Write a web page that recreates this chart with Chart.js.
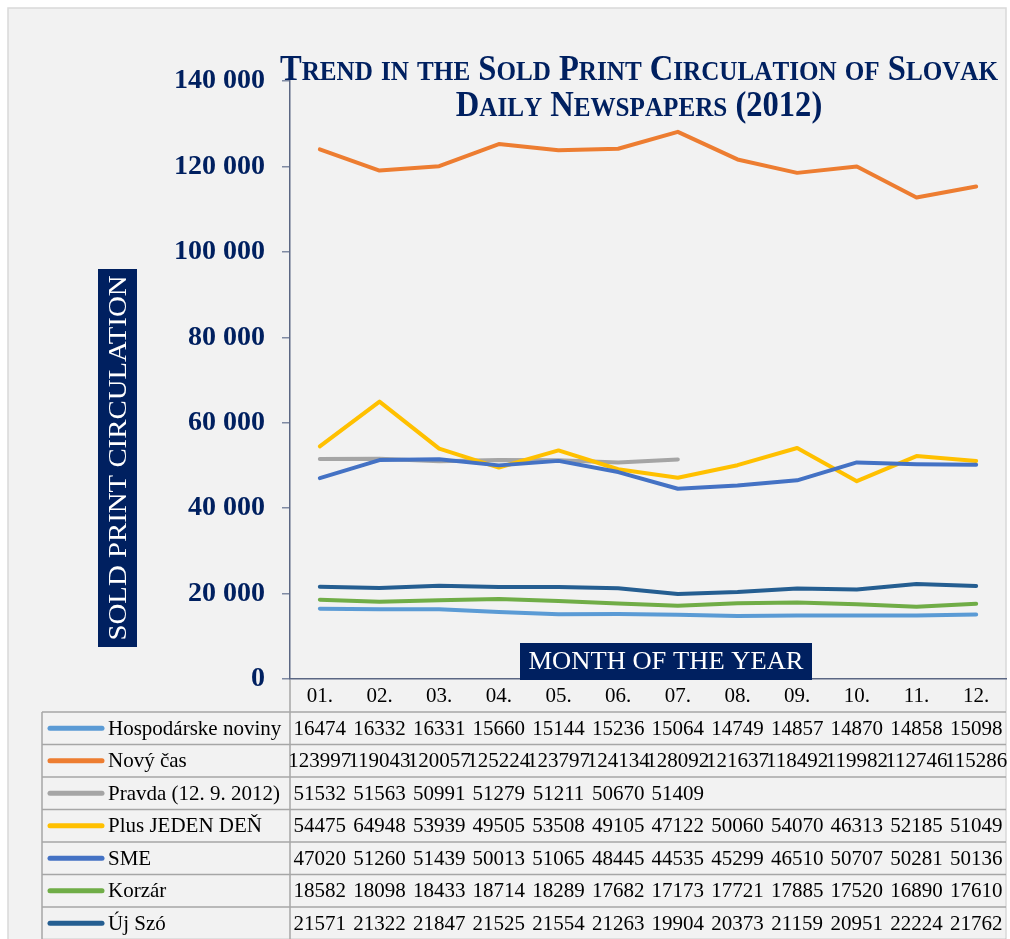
<!DOCTYPE html>
<html>
<head>
<meta charset="utf-8">
<script src="https://cdn.jsdelivr.net/npm/chart.js@4.4.1/dist/chart.umd.min.js"></script>
<style>
  html, body { margin: 0; padding: 0; background: #ffffff; }
  #wrap { width: 1010px; height: 939px; }
</style>
</head>
<body>
<div id="wrap"><canvas id="chart" width="1010" height="939"></canvas></div>
<script>
// data
const months = ["01.", "02.", "03.", "04.", "05.", "06.", "07.", "08.", "09.", "10.", "11.", "12."];
const yTicks = [0, 20000, 40000, 60000, 80000, 100000, 120000, 140000];

const seriesNames = ["Hospodárske noviny", "Nový čas", "Pravda (12. 9. 2012)", "Plus JEDEN DEŇ", "SME", "Korzár", "Új Szó"];
const hospodarske = [16474, 16332, 16331, 15660, 15144, 15236, 15064, 14749, 14857, 14870, 14858, 15098];
const novyCas     = [123997, 119043, 120057, 125224, 123797, 124134, 128092, 121637, 118492, 119982, 112746, 115286];
const pravda      = [51532, 51563, 50991, 51279, 51211, 50670, 51409, null, null, null, null, null];
const plusJedenDen = [54475, 64948, 53939, 49505, 53508, 49105, 47122, 50060, 54070, 46313, 52185, 51049];
const sme         = [47020, 51260, 51439, 50013, 51065, 48445, 44535, 45299, 46510, 50707, 50281, 50136];
const korzar      = [18582, 18098, 18433, 18714, 18289, 17682, 17173, 17721, 17885, 17520, 16890, 17610];
const ujSzo       = [21571, 21322, 21847, 21525, 21554, 21263, 19904, 20373, 21159, 20951, 22224, 21762];

const seriesValues = [hospodarske, novyCas, pravda, plusJedenDen, sme, korzar, ujSzo];
const colores = ["#5B9BD5", "#ED7D31", "#A5A5A5", "#FFC000", "#4472C4", "#70AD47", "#255E91"];

const NAVY = "#002060";
const SERIF = '"Liberation Serif", "Times New Roman", serif';

function miles(v) {
    return String(v).replace(/\B(?=(\d{3})+(?!\d))/g, " ");
}

// title in small caps
function textoVersalitas(texto, big, small) {
    const partes = [];
    for (const ch of texto) {
        const minus = ch !== ch.toUpperCase();
        partes.push({ ch: ch.toUpperCase(), size: minus ? small : big });
    }
    return partes;
}
function anchoPartes(ctx, partes) {
    let w = 0;
    partes.forEach(p => { ctx.font = "bold " + p.size + "px " + SERIF; w += ctx.measureText(p.ch).width; });
    return w;
}
function pintarPartes(ctx, partes, x, y) {
    partes.forEach(p => {
        ctx.font = "bold " + p.size + "px " + SERIF;
        ctx.fillText(p.ch, x, y);
        x += ctx.measureText(p.ch).width;
    });
}

const fondoPlugin = {
    id: "fondo",
    beforeDraw(chart) {
        const ctx = chart.ctx;
        ctx.save();
        ctx.fillStyle = "#ffffff";
        ctx.fillRect(0, 0, chart.width, chart.height);
        ctx.fillStyle = "#f2f2f2";
        ctx.fillRect(8, 8, 998, 940);
        ctx.strokeStyle = "#d9d9d9";
        ctx.lineWidth = 1.5;
        ctx.strokeRect(8, 8, 998, 940);
        ctx.restore();
    }
};

const extrasPlugin = {
    id: "extras",
    afterDraw(chart) {
        const ctx = chart.ctx;
        const x = chart.scales.x;
        ctx.save();

        // title
        ctx.fillStyle = NAVY;
        ctx.textBaseline = "alphabetic";
        ctx.textAlign = "left";
        const l1 = textoVersalitas("Trend in the Sold Print Circulation of Slovak", 35, 27);
        const l2 = textoVersalitas("Daily Newspapers (2012)", 35, 27);
        const w1 = anchoPartes(ctx, l1), w2 = anchoPartes(ctx, l2);
        const sx = 718 / w1;
        ctx.save();
        ctx.translate(639, 0);
        ctx.scale(sx, 1);
        pintarPartes(ctx, l1, -w1 / 2, 80);
        pintarPartes(ctx, l2, -w2 / 2, 116);
        ctx.restore();

        // y axis title
        ctx.fillStyle = NAVY;
        ctx.fillRect(98, 269, 39, 378);
        ctx.save();
        ctx.translate(118, 458);
        ctx.rotate(-Math.PI / 2);
        ctx.font = "25px " + SERIF;
        ctx.fillStyle = "#ffffff";
        ctx.textAlign = "center";
        ctx.textBaseline = "middle";
        const wy = ctx.measureText("SOLD PRINT CIRCULATION").width;
        ctx.scale(365 / wy, 1);
        ctx.fillText("SOLD PRINT CIRCULATION", 0, 1);
        ctx.restore();

        // x axis title
        ctx.fillStyle = NAVY;
        ctx.fillRect(520, 643, 292, 37);
        ctx.save();
        ctx.translate(666, 662);
        ctx.font = "25px " + SERIF;
        ctx.fillStyle = "#ffffff";
        ctx.textAlign = "center";
        ctx.textBaseline = "middle";
        const wx = ctx.measureText("MONTH OF THE YEAR").width;
        ctx.scale(275 / wx, 1);
        ctx.fillText("MONTH OF THE YEAR", 0, 0);
        ctx.restore();

        // data table
        const top = 712, alto = 32.5, izq = 42, sep = 290, der = 1006;
        ctx.strokeStyle = "#a6a6a6";
        ctx.lineWidth = 1.5;
        ctx.beginPath();
        for (let r = 0; r <= seriesNames.length; r++) {
            const yy = top + r * alto;
            ctx.moveTo(izq, yy);
            ctx.lineTo(der, yy);
        }
        ctx.moveTo(izq, top);
        ctx.lineTo(izq, 940);
        ctx.moveTo(sep, chart.chartArea.bottom + 1);
        ctx.lineTo(sep, 940);
        ctx.stroke();

        ctx.fillStyle = "#000000";
        ctx.font = "21px " + SERIF;
        ctx.textAlign = "center";
        ctx.textBaseline = "middle";
        months.forEach((m, i) => ctx.fillText(m, x.getPixelForValue(i), 696));

        seriesNames.forEach((nombre, r) => {
            const cy = top + r * alto + alto / 2 + 1;
            ctx.strokeStyle = colores[r];
            ctx.lineWidth = 5;
            ctx.lineCap = "round";
            ctx.beginPath();
            ctx.moveTo(50, cy - 1);
            ctx.lineTo(102, cy - 1);
            ctx.stroke();

            ctx.fillStyle = "#000000";
            ctx.textAlign = "left";
            ctx.fillText(nombre, 108, cy);
            ctx.textAlign = "center";
            seriesValues[r].forEach((v, i) => {
                if (v === null) return;
                ctx.fillText(String(v), x.getPixelForValue(i), cy);
            });
        });

        ctx.restore();
    }
};

const ctx = document.getElementById("chart").getContext("2d");

new Chart(ctx, {
    type: "line",
    data: {
        labels: months,
        datasets: seriesNames.map((nombre, i) => ({
            label: nombre,
            data: seriesValues[i],
            borderColor: colores[i],
            backgroundColor: colores[i],
            borderWidth: 4,
            borderCapStyle: "round",
            borderJoinStyle: "round",
            pointRadius: 0,
            tension: 0,
            fill: false,
            order: seriesNames.length - i
        }))
    },
    options: {
        responsive: false,
        animation: false,
        devicePixelRatio: 1,
        layout: { padding: { left: 0, right: 4, top: 81, bottom: 260 } },
        plugins: {
            legend: { display: false },
            title: { display: false },
            tooltip: { enabled: false }
        },
        scales: {
            x: {
                type: "category",
                offset: true,
                grid: { display: false },
                border: { display: true, color: "#5b6783", width: 1.5 },
                ticks: { display: false },
                afterFit(s) { s.height = 0; }
            },
            y: {
                min: 0,
                max: 140000,
                afterBuildTicks(s) { s.ticks = yTicks.map(v => ({ value: v })); },
                grid: { drawOnChartArea: false, drawTicks: true, tickLength: 8, color: "#7f8aa3", lineWidth: 1.5 },
                border: { display: true, color: "#5b6783", width: 1.5 },
                ticks: {
                    color: NAVY,
                    padding: 17,
                    font: { family: SERIF, size: 28, weight: "bold" },
                    callback: v => miles(v)
                },
                afterFit(s) { s.width = 290; }
            }
        }
    },
    plugins: [fondoPlugin, extrasPlugin]
});
</script>
</body>
</html>
